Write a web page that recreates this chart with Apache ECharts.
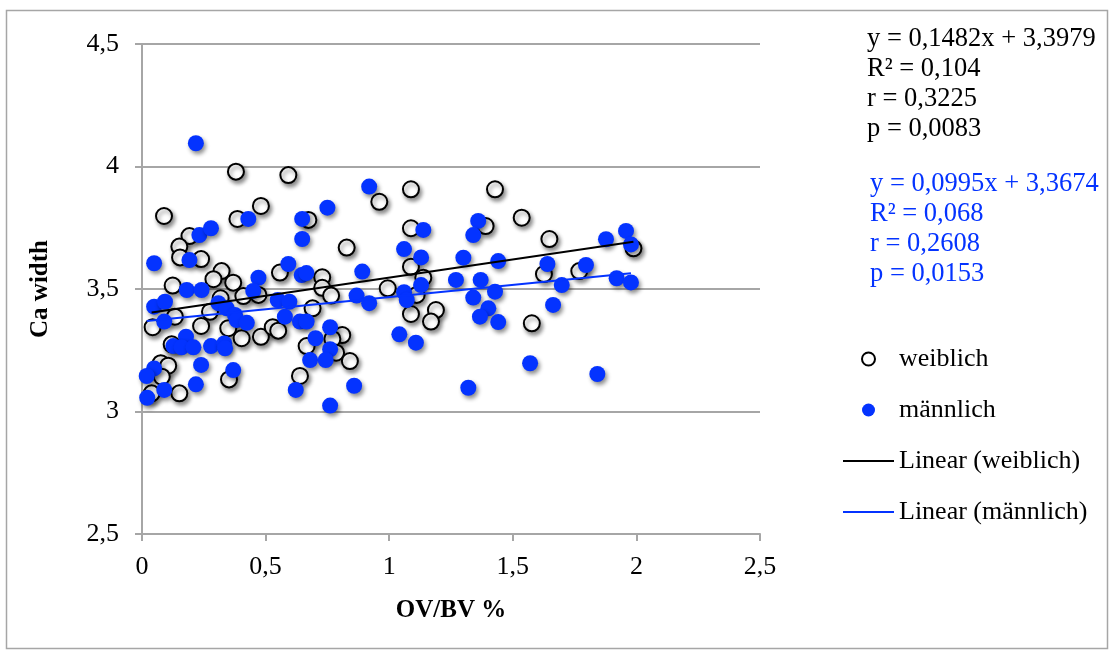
<!DOCTYPE html>
<html>
<head>
<meta charset="utf-8">
<script src="https://cdn.jsdelivr.net/npm/echarts@6/dist/echarts.min.js"></script>
<style>
  html, body { margin: 0; padding: 0; background: #fff; }
  #chart { width: 1110px; height: 654px; }
</style>
</head>
<body>
<div id="chart"></div>
<script>
// OV/BV % (x) against Ca width (y), female subjects
const weiblichPoints = [
  [0.380, 3.979], [0.592, 3.965], [0.089, 3.798], [0.481, 3.839], [0.386, 3.786],
  [0.673, 3.782], [0.192, 3.716], [0.151, 3.673], [0.154, 3.629], [0.239, 3.622],
  [0.322, 3.573], [0.289, 3.540], [0.558, 3.567], [0.729, 3.548], [0.729, 3.505],
  [0.765, 3.473], [0.828, 3.669], [0.124, 3.514], [0.369, 3.526], [0.410, 3.471],
  [0.471, 3.476], [1.088, 3.591], [0.994, 3.503], [1.111, 3.476], [1.138, 3.546],
  [1.088, 3.398], [1.189, 3.414], [1.169, 3.367], [0.133, 3.387], [0.043, 3.344],
  [0.275, 3.407], [0.318, 3.462], [0.239, 3.349], [0.349, 3.340], [0.403, 3.299],
  [0.481, 3.305], [0.529, 3.344], [0.551, 3.330], [0.690, 3.421], [0.810, 3.312],
  [0.770, 3.296], [0.666, 3.267], [0.785, 3.240], [0.841, 3.206], [0.639, 3.145],
  [0.120, 3.274], [0.352, 3.131], [0.076, 3.197], [0.106, 3.187], [0.080, 3.142],
  [0.151, 3.074], [0.039, 3.074], [0.960, 3.856], [1.088, 3.907], [1.428, 3.907],
  [1.536, 3.791], [1.390, 3.757], [1.088, 3.748], [1.648, 3.704], [1.626, 3.561],
  [1.577, 3.360], [1.769, 3.573], [1.988, 3.666]
];

// OV/BV % (x) against Ca width (y), male subjects
const maennlichPoints = [
  [0.218, 4.095], [0.430, 3.786], [0.648, 3.786], [0.750, 3.832], [0.648, 3.704],
  [0.232, 3.720], [0.279, 3.748], [0.192, 3.618], [0.049, 3.605], [0.471, 3.546],
  [0.592, 3.602], [0.646, 3.557], [0.665, 3.565], [0.181, 3.496], [0.241, 3.496],
  [0.450, 3.492], [1.060, 3.663], [1.129, 3.629], [1.300, 3.628], [0.891, 3.571],
  [0.868, 3.473], [0.919, 3.442], [1.060, 3.487], [1.071, 3.455], [1.129, 3.516],
  [1.041, 3.315], [1.108, 3.281], [1.270, 3.537], [0.049, 3.428], [0.093, 3.448],
  [0.090, 3.367], [0.309, 3.442], [0.343, 3.421], [0.376, 3.394], [0.383, 3.373],
  [0.424, 3.362], [0.549, 3.455], [0.596, 3.448], [0.578, 3.387], [0.639, 3.367],
  [0.666, 3.367], [0.761, 3.344], [0.702, 3.299], [0.761, 3.254], [0.680, 3.210],
  [0.743, 3.210], [0.622, 3.088], [0.858, 3.105], [0.761, 3.024], [0.178, 3.305],
  [0.127, 3.267], [0.160, 3.262], [0.208, 3.262], [0.279, 3.267], [0.333, 3.278],
  [0.336, 3.258], [0.239, 3.190], [0.369, 3.169], [0.218, 3.111], [0.049, 3.176],
  [0.019, 3.145], [0.090, 3.088], [0.021, 3.056], [0.919, 3.918], [1.360, 3.778],
  [1.340, 3.720], [1.138, 3.741], [1.441, 3.614], [1.640, 3.602], [1.370, 3.537],
  [1.428, 3.489], [1.340, 3.465], [1.401, 3.421], [1.367, 3.387], [1.441, 3.365],
  [1.663, 3.435], [1.698, 3.516], [1.320, 3.097], [1.570, 3.197], [1.877, 3.703],
  [1.958, 3.737], [1.978, 3.682], [1.796, 3.598], [1.920, 3.544], [1.978, 3.527],
  [1.842, 3.153]
];

// Linear regression results: [slope, intercept, R², r, p]
const statsWeiblich = [0.1482, 3.3979, 0.104, 0.3225, 0.0083];
const statsMaennlich = [0.0995, 3.3674, 0.068, 0.2608, 0.0153];

// Axis ranges and steps
const xRange = [0, 2.5, 0.5];
const yRange = [2.5, 4.5, 0.5];

const serif = '"Liberation Serif", "Times New Roman", serif';
const BLUE = '#0433ff';
const GRID_GREY = '#a6a6a6';
const fmt = v => String(v).replace('.', ',');

// Trend line spans the x range of its own series
function trendLine(points, stats) {
  const xs = points.map(p => p[0]);
  const x0 = Math.min(...xs), x1 = Math.max(...xs);
  return [[x0, stats[1] + stats[0] * x0], [x1, stats[1] + stats[0] * x1]];
}

function statsText(stats) {
  return [
    'y = ' + fmt(stats[0]) + 'x + ' + fmt(stats[1]),
    'R² = ' + fmt(stats[2]),
    'r = ' + fmt(stats[3]),
    'p = ' + fmt(stats[4])
  ].join('\n');
}

const shadow = {
  shadowBlur: 4,
  shadowColor: 'rgba(0,0,0,0.45)',
  shadowOffsetX: 2,
  shadowOffsetY: 3
};

// Legend entries of the trend lines show only the line, no marker
const hiddenMarker = { color: 'transparent', borderColor: 'transparent', borderWidth: 0, opacity: 0 };

const chart = echarts.init(document.getElementById('chart'), null, { renderer: 'canvas' });

chart.setOption({
  animation: false,
  backgroundColor: '#fff',
  grid: { left: 142, right: 350, top: 44, bottom: 120, containLabel: false },
  xAxis: {
    type: 'value',
    min: xRange[0], max: xRange[1], interval: xRange[2],
    name: 'OV/BV %',
    nameLocation: 'middle',
    nameGap: 64,
    nameTextStyle: { fontFamily: serif, fontSize: 25, fontWeight: 'bold', color: '#000' },
    axisLine: { show: true, onZero: false, lineStyle: { color: GRID_GREY, width: 2 } },
    axisTick: { show: true, length: 7, lineStyle: { color: GRID_GREY, width: 2 } },
    axisLabel: { margin: 20, fontFamily: serif, fontSize: 26, color: '#000', formatter: fmt },
    splitLine: { show: false }
  },
  yAxis: {
    type: 'value',
    min: yRange[0], max: yRange[1], interval: yRange[2],
    name: 'Ca width',
    nameLocation: 'middle',
    nameRotate: 90,
    nameGap: 89,
    nameTextStyle: { fontFamily: serif, fontSize: 25, fontWeight: 'bold', color: '#000' },
    axisLine: { show: true, onZero: false, lineStyle: { color: GRID_GREY, width: 2 } },
    axisTick: { show: true, length: 7, lineStyle: { color: GRID_GREY, width: 2 } },
    axisLabel: { margin: 23, fontFamily: serif, fontSize: 26, color: '#000', formatter: fmt },
    splitLine: { show: true, lineStyle: { color: GRID_GREY, width: 2 } }
  },
  legend: {
    orient: 'vertical',
    left: 837,
    top: 341,
    itemWidth: 51,
    itemHeight: 13,
    itemGap: 25,
    selectedMode: false,
    textStyle: { fontFamily: serif, fontSize: 26, color: '#000' },
    itemStyle: { shadowBlur: 0, shadowOffsetX: 0, shadowOffsetY: 0, shadowColor: 'transparent' },
    data: [
      { name: 'weiblich', icon: 'circle' },
      { name: 'männlich', icon: 'circle' },
      { name: 'Linear (weiblich)', itemStyle: hiddenMarker },
      { name: 'Linear (männlich)', itemStyle: hiddenMarker }
    ]
  },
  graphic: [
    {
      type: 'rect',
      shape: { x: 6.5, y: 10.5, width: 1101, height: 638 },
      style: { fill: 'none', stroke: GRID_GREY, lineWidth: 1.5 },
      silent: true, z: -10
    },
    {
      type: 'text',
      left: 867, top: 24,
      style: { text: statsText(statsWeiblich), font: '26.5px ' + serif, fill: '#000', lineHeight: 30 }
    },
    {
      type: 'text',
      left: 870, top: 169,
      style: { text: statsText(statsMaennlich), font: '26.5px ' + serif, fill: BLUE, lineHeight: 30 }
    }
  ],
  series: [
    {
      name: 'weiblich',
      type: 'scatter',
      symbol: 'circle',
      symbolSize: 16,
      data: weiblichPoints,
      itemStyle: Object.assign({ color: '#fff', borderColor: '#000', borderWidth: 2, opacity: 1 }, shadow),
      emphasis: { disabled: true },
      z: 2
    },
    {
      name: 'männlich',
      type: 'scatter',
      symbol: 'circle',
      symbolSize: 16,
      data: maennlichPoints,
      itemStyle: Object.assign({ color: BLUE, opacity: 1 }, shadow),
      emphasis: { disabled: true },
      z: 3
    },
    {
      name: 'Linear (weiblich)',
      type: 'line',
      symbol: 'none',
      data: trendLine(weiblichPoints, statsWeiblich),
      lineStyle: { color: '#000', width: 2 },
      itemStyle: { color: '#000' },
      emphasis: { disabled: true },
      z: 4
    },
    {
      name: 'Linear (männlich)',
      type: 'line',
      symbol: 'none',
      data: trendLine(maennlichPoints, statsMaennlich),
      lineStyle: { color: BLUE, width: 2 },
      itemStyle: { color: BLUE },
      emphasis: { disabled: true },
      z: 4
    }
  ]
});
</script>
</body>
</html>
